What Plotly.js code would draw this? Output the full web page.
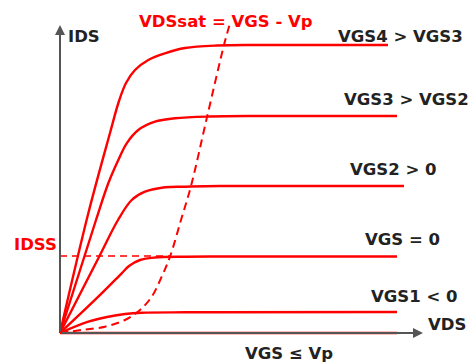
<!DOCTYPE html>
<html>
<head>
<meta charset="utf-8">
<script src="https://cdn.plot.ly/plotly-3.0.1.min.js"></script>
<style>html,body{margin:0;padding:0;background:#fff;}#chart{width:470px;height:364px;}</style>
</head>
<body>
<div id="chart"></div>
<script>
// JFET output characteristics (arbitrary units): VDS on x, IDS on y
const curveLabels = ['VGS4 > VGS3', 'VGS3 > VGS2', 'VGS2 > 0', 'VGS = 0', 'VGS1 < 0', 'VGS ≤ Vp'];

const vdsVGS4 = [0, 2.83, 5.0, 5.9, 6.6, 7.5, 8.83, 10.5, 12.5, 15.7, 20, 32.8];
const idsVGS4 = [0, 11.97, 20.0, 23.2, 25.0, 26.3, 27.3, 27.97, 28.5, 28.75, 28.8, 28.8];

const vdsVGS3 = [0, 3.6, 4.83, 5.83, 6.67, 7.83, 9.5, 11.5, 15, 20, 33.7];
const idsVGS3 = [0, 11.3, 14.97, 17.3, 18.97, 20.3, 21.13, 21.47, 21.65, 21.7, 21.7];

const vdsVGS2 = [0, 4.0, 5.8, 7.17, 8.5, 10.5, 12.5, 16, 34.4];
const idsVGS2 = [0, 7.8, 11.3, 13.3, 14.13, 14.57, 14.63, 14.7, 14.7];

const vdsVGS0 = [0, 3.83, 6.17, 6.9, 8.0, 9.5, 12.5, 16, 33.7];
const idsVGS0 = [0, 3.63, 5.97, 6.7, 7.3, 7.55, 7.63, 7.65, 7.65];

const vdsVGS1 = [0, 2.83, 4.83, 6.5, 8.17, 12.5, 16, 33.7];
const idsVGS1 = [0, 1.13, 1.63, 1.9, 2.03, 2.07, 2.08, 2.1];

const vdsVGSp = [0, 33.7];
const idsVGSp = [0, 0];

// saturation boundary VDSsat = VGS - Vp
const vdsSat = [0, 2.17, 4.5, 6.5, 8.0, 9.17, 10.17, 11.0, 12.1, 13.1, 14.75, 16.4, 16.95];
const idsSat = [0, 0.3, 0.63, 1.3, 2.3, 3.63, 5.63, 7.63, 11.3, 14.7, 21.8, 28.8, 30.8];

// IDSS level
const idssVds = [0, 11.0];
const idssIds = [7.7, 7.7];

const RED = '#ff0000';
const FONT = 'DejaVu Sans';

function curve(x, y) {
  return {x: x, y: y, type: 'scatter', mode: 'lines', hoverinfo: 'skip',
          line: {color: RED, width: 2.4, shape: 'spline', smoothing: 1}};
}

const traces = [
  curve(vdsVGS4, idsVGS4),
  curve(vdsVGS3, idsVGS3),
  curve(vdsVGS2, idsVGS2),
  curve(vdsVGS0, idsVGS0),
  curve(vdsVGS1, idsVGS1),
  {x: vdsVGSp, y: idsVGSp, type: 'scatter', mode: 'lines', hoverinfo: 'skip',
   line: {color: RED, width: 2.4}},
  {x: vdsSat, y: idsSat, type: 'scatter', mode: 'lines', hoverinfo: 'skip',
   line: {color: RED, width: 2, dash: '8px,5px', shape: 'spline', smoothing: 1}},
  {x: idssVds, y: idssIds, type: 'scatter', mode: 'lines', hoverinfo: 'skip',
   line: {color: RED, width: 1.6, dash: '7px,5px'}}
];

const txt = {family: FONT, size: 16.5, color: '#222222', weight: 'bold'};
const redTxt = {family: FONT, size: 16.5, color: RED, weight: 'bold'};

function label(text, x, y, font) {
  return {text: '<b>' + text + '</b>', x: x, y: y, xref: 'x', yref: 'y', showarrow: false,
          xanchor: 'center', yanchor: 'middle', font: font};
}

const annotations = [
  // axes with arrowheads
  {x: 36.3, y: 0, ax: 0, ay: 0, xref: 'x', yref: 'y', axref: 'x', ayref: 'y', text: '',
   showarrow: true, arrowhead: 2, arrowsize: 1, arrowwidth: 2, arrowcolor: '#555555'},
  {x: 0, y: 30.8, ax: 0, ay: 0, xref: 'x', yref: 'y', axref: 'x', ayref: 'y', text: '',
   showarrow: true, arrowhead: 2, arrowsize: 1, arrowwidth: 2, arrowcolor: '#555555'},
  label('VDSsat = VGS - Vp', 16.55, 31.2, redTxt),
  label('IDS', 2.4, 29.7, txt),
  label(curveLabels[0], 34.0, 29.7, txt),
  label(curveLabels[1], 34.6, 23.4, txt),
  label(curveLabels[2], 33.3, 16.4, txt),
  label(curveLabels[3], 34.25, 9.4, txt),
  label(curveLabels[4], 35.4, 3.7, txt),
  label('VDS', 38.7, 0.9, txt),
  label(curveLabels[5], 22.9, -2.0, txt),
  label('IDSS', -2.5, 8.9, redTxt)
];

const layout = {
  width: 470, height: 364,
  margin: {l: 0, r: 0, t: 0, b: 0},
  paper_bgcolor: '#ffffff', plot_bgcolor: '#ffffff',
  showlegend: false,
  xaxis: {range: [-6, 41], visible: false, showgrid: false, zeroline: false, fixedrange: true},
  yaxis: {range: [-3.1, 33.3], visible: false, showgrid: false, zeroline: false, fixedrange: true},
  annotations: annotations
};

Plotly.newPlot('chart', traces, layout, {staticPlot: true, displayModeBar: false});
</script>
</body>
</html>
